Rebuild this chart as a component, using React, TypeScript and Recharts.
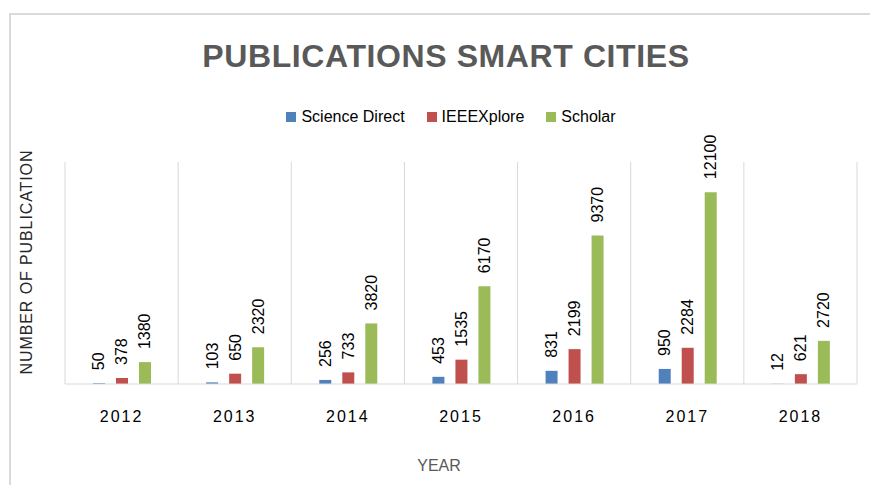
import React from "react";
import { BarChart, Bar, XAxis, YAxis, CartesianGrid, LabelList } from "recharts";

const years = ["2012", "2013", "2014", "2015", "2016", "2017", "2018"];
const scienceDirect = [50, 103, 256, 453, 831, 950, 12];
const ieeeXplore = [378, 650, 733, 1535, 2199, 2284, 621];
const scholar = [1380, 2320, 3820, 6170, 9370, 12100, 2720];

const series = [
  { key: "sd", name: "Science Direct", color: "#4F81BD" },
  { key: "ieee", name: "IEEEXplore", color: "#C0504D" },
  { key: "scholar", name: "Scholar", color: "#9BBB59" },
];

const data = years.map((year, i) => ({
  year,
  sd: scienceDirect[i],
  ieee: ieeeXplore[i],
  scholar: scholar[i],
}));

const FONT = "'Liberation Sans', Arial, sans-serif";

const renderValue = (props: any) => {
  const { x, y, width, value } = props;
  const cx = x + width / 2;
  const cy = y - 13;
  return (
    <text
      x={cx}
      y={cy}
      transform={`rotate(-90, ${cx}, ${cy})`}
      textAnchor="start"
      dominantBaseline="central"
      fontSize={16}
      fontFamily={FONT}
      fill="#000"
    >
      {value}
    </text>
  );
};

export default function App() {
  return (
    <div style={{ margin: -8, width: 878, height: 493, position: "relative", background: "#fff", overflow: "hidden" }}>
      <div
        style={{
          position: "absolute",
          left: 9,
          top: 13,
          width: 900,
          height: 520,
          border: "2px solid #DADADA",
          boxSizing: "border-box",
        }}
      />
      <div
        style={{
          position: "absolute",
          left: 0,
          width: 892,
          top: 38,
          textAlign: "center",
          fontFamily: FONT,
          fontWeight: "bold",
          fontSize: 32,
          letterSpacing: 0.6,
          color: "#595959",
        }}
      >
        PUBLICATIONS SMART CITIES
      </div>
      {/* legend */}
      <div
        style={{
          position: "absolute",
          left: 0,
          width: 902,
          top: 108,
          display: "flex",
          justifyContent: "center",
          fontFamily: FONT,
          fontSize: 16,
          color: "#000",
        }}
      >
        {series.map((s, i) => (
          <div key={s.key} style={{ display: "flex", alignItems: "center", marginLeft: i === 0 ? 0 : 22 }}>
            <span style={{ width: 10, height: 10, background: s.color, display: "inline-block", marginRight: 5 }} />
            <span>{s.name}</span>
          </div>
        ))}
      </div>
      <div
        style={{
          position: "absolute",
          left: 27,
          top: 262,
          transform: "translate(-50%, -50%) rotate(-90deg)",
          whiteSpace: "nowrap",
          fontFamily: FONT,
          fontSize: 16,
          letterSpacing: 0.9,
          color: "#262626",
        }}
      >
        NUMBER OF PUBLICATION
      </div>
      <div
        style={{
          position: "absolute",
          left: 0,
          width: 878,
          top: 457,
          textAlign: "center",
          fontFamily: FONT,
          fontSize: 16,
          color: "#595959",
        }}
      >
        YEAR
      </div>
      <div style={{ position: "absolute", left: 0, top: 0 }}>
        <BarChart
          width={878}
          height={493}
          data={data}
          margin={{ top: 162, right: 21, left: 65, bottom: 79 }}
          barSize={12}
          barGap={11}
        >
          <CartesianGrid
            horizontal={false}
            stroke="#D9D9D9"
            verticalCoordinatesGenerator={({ offset }: any) =>
              Array.from({ length: years.length + 1 }, (_, i) => offset.left + (i * offset.width) / years.length)
            }
          />
          <XAxis
            dataKey="year"
            height={30}
            axisLine={{ stroke: "#D9D9D9" }}
            tickLine={false}
            tickMargin={21}
            tick={{ fill: "#000", fontSize: 16, fontFamily: FONT, letterSpacing: 2 }}
          />
          <YAxis hide domain={[0, 14000]} />
          {series.map((s) => (
            <Bar key={s.key} dataKey={s.key} name={s.name} fill={s.color} isAnimationActive={false}>
              <LabelList dataKey={s.key} content={renderValue} />
            </Bar>
          ))}
        </BarChart>
      </div>
    </div>
  );
}
